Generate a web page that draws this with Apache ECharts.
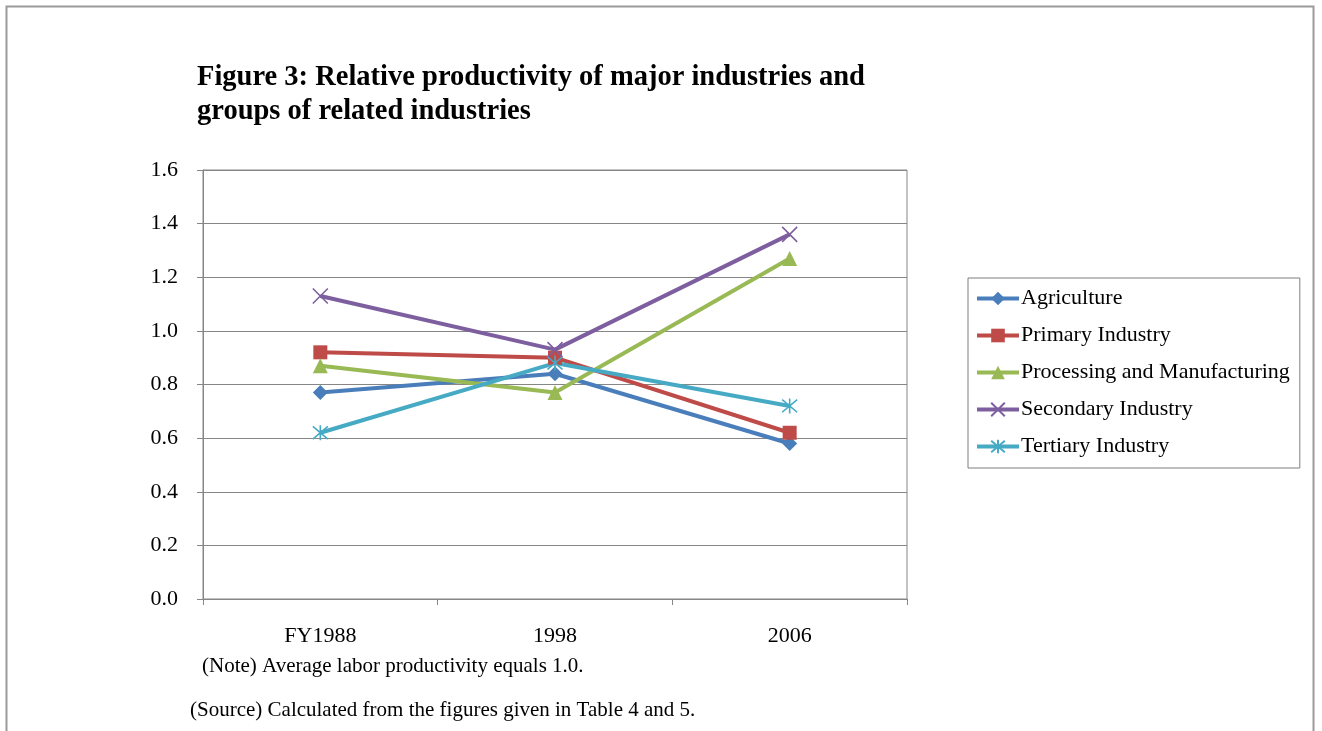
<!DOCTYPE html>
<html>
<head>
<meta charset="utf-8">
<script src="https://cdn.jsdelivr.net/npm/echarts@6/dist/echarts.min.js"></script>
<style>
  html, body { margin: 0; padding: 0; background: #fff; }
  #chart { width: 1322px; height: 731px; }
</style>
</head>
<body>
<div id="chart"></div>
<script>
var years = ['FY1988', '1998', '2006'];
var agriculture = [0.77, 0.84, 0.58];
var primary = [0.92, 0.90, 0.62];
var processing = [0.87, 0.77, 1.27];
var secondary = [1.13, 0.93, 1.36];
var tertiary = [0.62, 0.88, 0.72];

var serif = "'Liberation Serif', 'DejaVu Serif', serif";
var gridGray = '#868686';

var crossPath = 'path://M0,0L10,10M10,0L0,10';
var starPath = 'path://M5,0L5,10M0.8,0.8L9.2,9.2M9.2,0.8L0.8,9.2';

function makeSeries(name, data, color, symbol, size, stroked) {
  var s = {
    name: name,
    type: 'line',
    data: data,
    symbol: symbol,
    symbolSize: size,
    showAllSymbol: true,
    lineStyle: { color: color, width: 4 },
    itemStyle: { color: color },
    emphasis: { disabled: true }
  };
  if (stroked) {
    s.itemStyle = { color: color, borderColor: color, borderWidth: 1.6 };
  }
  return s;
}

var chart = echarts.init(document.getElementById('chart'));
var option = {
  animation: false,
  title: {
    text: 'Figure 3: Relative productivity of major industries and\ngroups of related industries',
    left: 197,
    top: 61,
    padding: 0,
    textStyle: {
      fontFamily: serif,
      fontWeight: 'bold',
      fontSize: 28.5,
      lineHeight: 34,
      color: '#000'
    }
  },
  legend: {
    orient: 'vertical',
    left: 968,
    top: 278,
    padding: [9, 10, 10, 7],
    itemGap: 14,
    itemWidth: 42,
    itemHeight: 17,
    borderColor: '#7f7f7f',
    borderWidth: 1,
    lineStyle: { width: 4 },
    textStyle: { fontFamily: serif, fontSize: 22, lineHeight: 23, color: '#000', padding: [0, 0, 0, -3] },
    data: ['Agriculture', 'Primary Industry', 'Processing and Manufacturing', 'Secondary Industry', 'Tertiary Industry']
  },
  grid: {
    left: 203,
    right: 415,
    top: 170,
    bottom: 132,
    show: true,
    borderColor: gridGray,
    borderWidth: 1
  },
  xAxis: {
    type: 'category',
    data: years,
    boundaryGap: true,
    axisLine: { lineStyle: { color: gridGray, width: 1 } },
    axisTick: { show: true, length: 6, lineStyle: { color: gridGray } },
    axisLabel: { fontFamily: serif, fontSize: 22, color: '#000', margin: 26 }
  },
  yAxis: {
    type: 'value',
    min: 0,
    max: 1.6,
    interval: 0.2,
    axisLine: { show: true, lineStyle: { color: gridGray, width: 1 } },
    axisTick: { show: true, length: 6, lineStyle: { color: gridGray } },
    splitLine: { show: true, lineStyle: { color: gridGray, width: 1 } },
    axisLabel: {
      fontFamily: serif,
      fontSize: 22,
      color: '#000',
      margin: 25,
      formatter: function (v) { return v.toFixed(1); }
    }
  },
  graphic: [
    {
      type: 'rect',
      shape: { x: 6.5, y: 6.5, width: 1307, height: 760 },
      style: { fill: 'none', stroke: '#9a9a9a', lineWidth: 2 },
      silent: true
    },
    {
      type: 'text',
      left: 202,
      top: 656,
      style: { text: '(Note) Average labor productivity equals 1.0.', font: '21px ' + serif, fill: '#000' }
    },
    {
      type: 'text',
      left: 190,
      top: 700,
      style: { text: '(Source) Calculated from the figures given in Table 4 and 5.', font: '21px ' + serif, fill: '#000' }
    }
  ],
  series: [
    makeSeries('Agriculture', agriculture, '#4a7ebb', 'diamond', 15),
    makeSeries('Primary Industry', primary, '#be4b48', 'rect', 14),
    makeSeries('Processing and Manufacturing', processing, '#98b954', 'triangle', 15),
    makeSeries('Secondary Industry', secondary, '#7d5fa0', crossPath, 15, true),
    makeSeries('Tertiary Industry', tertiary, '#46aac5', starPath, 15, true)
  ]
};
chart.setOption(option);
</script>
</body>
</html>
